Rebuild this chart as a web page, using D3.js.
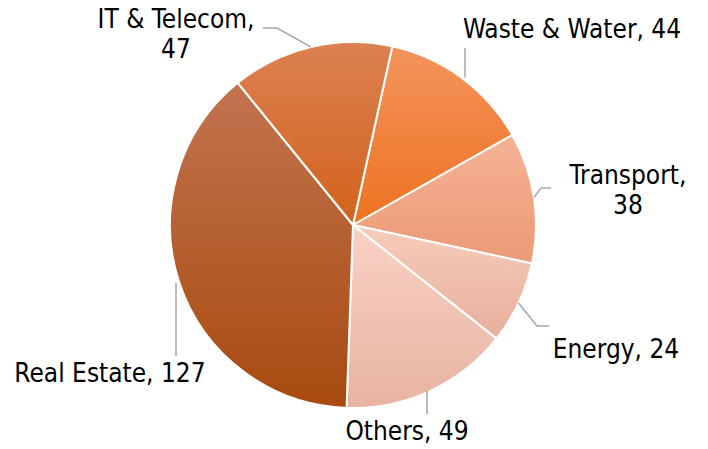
<!DOCTYPE html>
<html>
<head>
<meta charset="utf-8">
<script src="https://cdn.jsdelivr.net/npm/d3@7"></script>
<style>
  body { margin: 0; background: #fff; }
  text { font-family: "DejaVu Sans Condensed", "DejaVu Sans", sans-serif; font-size: 26px; fill: #000; }
</style>
</head>
<body>
<div id="div_chart"></div>
<script>
// Data (clockwise from the top)
var categories = ["Waste & Water", "Transport", "Energy", "Others", "Real Estate", "IT & Telecom"];
var values = [44, 38, 24, 49, 127, 47];
var colorsTop = ["#f3945c", "#f6b295", "#f8ccba", "#f9d2c5", "#c2744f", "#dc8152"];
var colorsBottom = ["#ee7220", "#eb9a76", "#e7ae9c", "#e8b3a1", "#a84a10", "#d2621b"];

var svgWidth = 708, svgHeight = 449;
var cx = 353, cy = 225, radius = 183;
var startAngle = 12.4 * Math.PI / 180;

var svg = d3.select("#div_chart")
    .append("svg")
        .attr("width", svgWidth)
        .attr("height", svgHeight);

var defs = svg.append("defs");
categories.forEach(function (c, i) {
    var g = defs.append("linearGradient")
        .attr("id", "grad" + i)
        .attr("x1", 0).attr("y1", 0).attr("x2", 0).attr("y2", 1);
    g.append("stop").attr("offset", "0%").attr("stop-color", colorsTop[i]);
    g.append("stop").attr("offset", "100%").attr("stop-color", colorsBottom[i]);
});

var pie = d3.pie()
    .sort(null)
    .value(d => d)
    .startAngle(startAngle)
    .endAngle(startAngle + 2 * Math.PI);
var arcs = pie(values);

var arc = d3.arc().innerRadius(0).outerRadius(radius);

var g = svg.append("g").attr("transform", "translate(" + cx + "," + cy + ")");

g.selectAll("path.slice")
    .data(arcs)
    .enter()
    .append("path")
        .attr("class", "slice")
        .attr("d", arc)
        .attr("fill", (d, i) => "url(#grad" + i + ")")
        .attr("stroke", "#fff")
        .attr("stroke-width", 2)
        .attr("stroke-linejoin", "round");

// Label layout: bend point and text placement (relative to the svg)
var labelLayout = [
    {bend: [465, 48], end: [465, 48], lines: 1, x: 572, y: 38},
    {bend: [541, 188], end: [551, 188], lines: 2, x: 628, y: 184},
    {bend: [537, 326], end: [549, 326], lines: 1, x: 616, y: 358},
    {bend: [427, 414], end: [427, 414], lines: 1, x: 407, y: 440},
    {bend: [176, 356], end: [176, 356], lines: 1, x: 110, y: 382},
    {bend: [277, 28], end: [263, 28], lines: 2, x: 176, y: 28}
];

function edgePoint(d) {
    var a = (d.startAngle + d.endAngle) / 2;
    return [cx + radius * Math.sin(a), cy - radius * Math.cos(a)];
}

// Leader lines
svg.selectAll("polyline.leader")
    .data(arcs)
    .enter()
    .append("polyline")
        .attr("class", "leader")
        .attr("points", function (d, i) {
            var p = edgePoint(d), L = labelLayout[i];
            var pts = [p];
            if (i === 3 || i === 4 || i === 0) {
                pts.push([L.bend[0], L.bend[1]]);
                pts[0] = [L.bend[0], p[1]];
            } else {
                pts.push(L.bend, L.end);
            }
            return pts.map(q => q.join(",")).join(" ");
        })
        .attr("fill", "none")
        .attr("stroke", "#a6a6a6")
        .attr("stroke-width", 1.5);

// Labels
var labels = svg.selectAll("text.label")
    .data(arcs)
    .enter()
    .append("text")
        .attr("class", "label")
        .attr("text-anchor", "middle")
        .attr("x", (d, i) => labelLayout[i].x)
        .attr("y", (d, i) => labelLayout[i].y);

labels.each(function (d, i) {
    var t = d3.select(this), L = labelLayout[i];
    if (L.lines === 2) {
        t.append("tspan").attr("x", L.x).text(categories[i] + ",");
        t.append("tspan").attr("x", L.x).attr("dy", 30).text(values[i]);
    } else {
        t.text(categories[i] + ", " + values[i]);
    }
});
</script>
</body>
</html>
